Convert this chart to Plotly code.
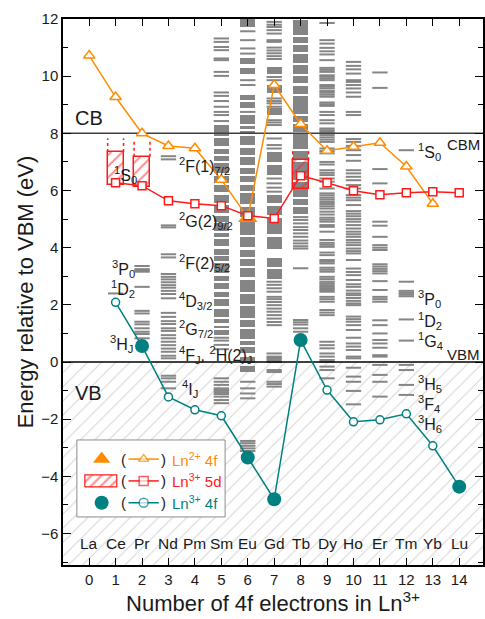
import plotly.graph_objects as go

# ---------------------------------------------------------------- data
n_4f = list(range(15))
elements = ["La", "Ce", "Pr", "Nd", "Pm", "Sm", "Eu", "Gd", "Tb", "Dy", "Ho", "Er", "Tm", "Yb", "Lu"]

cb_energy = 8.0     # conduction band minimum (eV)
vbm_energy = 0.0    # valence band maximum (eV)

# Ln2+ 4f ground state (n = 0..13)
ln2_n = list(range(14))
ln2_4f = [10.72, 9.27, 8.00, 7.56, 7.48, 6.38, 5.05, 9.69, 8.33, 7.39, 7.53, 7.67, 6.84, 5.54]
ln2_in_gap = [False, False, False, False, False, False, True, False, False, False, False, False, False, False]

# Ln3+ lowest 5d state (n = 1..14)
ln3_5d_n = list(range(1, 15))
ln3_5d = [6.27, 6.17, 5.64, 5.54, 5.47, 5.12, 5.02, 6.52, 6.27, 5.99, 5.85, 5.92, 5.96, 5.92]

# Ln3+ 4f ground state (n = 1..14)
ln3_4f_n = list(range(1, 15))
ln3_4f = [2.09, 0.56, -1.22, -1.67, -1.88, -3.34, -4.80, 0.77, -0.98, -2.09, -2.02, -1.81, -2.93, -4.36]
ln3_4f_in_gap = [False, True, False, False, False, True, True, True, False, False, False, False, False, True]

# 5d bands of Ce3+, Pr3+ and Tb3+ (eV)
band_n = [1, 2, 8]
band_low = [6.19, 6.13, 6.07]
band_high = [7.35, 7.18, 7.06]
band_tail = [7.83, 7.76, 7.48]

# excited 4f levels of the Ln3+ ions (eV): single levels and dense groups
lv_ce = [2.40]
lv_pr = [0.83, 0.98, 1.06, 1.18, 1.32, 1.41, 1.70, 1.79, 2.63, 3.16, 3.20, 3.25, 3.36]
lv_nd = [-0.92, -0.69, -0.57, -0.48, 0.13, 0.22, 0.36, 0.47, 0.59, 0.71, 0.83, 0.94, 1.09, 1.18,
         1.33, 1.43, 1.58, 1.72, 2.23, 2.38, 2.49, 2.60, 2.69, 2.79, 2.89, 2.98, 3.08, 3.66, 3.77,
         4.71, 4.78, 7.09, 7.20]
lv_sm = [-1.44, -1.33, -1.21, -1.12, -1.05, -0.98, -0.92, -0.80, -0.69, -0.57, 0.45, 0.60, 0.75,
         0.85, 8.43, 8.64, 8.75, 8.93, 9.13, 9.31, 9.43, 10.01, 10.15, 10.56, 10.62, 10.91, 11.02,
         11.20, 11.32]
blk_sm = [(0.95, 1.12), (1.18, 1.25), (1.35, 1.52), (1.58, 1.85), (1.95, 2.20), (2.26, 2.45),
          (2.55, 2.78), (2.84, 3.00), (3.10, 3.45), (3.55, 3.70), (3.76, 3.95), (4.05, 4.30),
          (4.36, 4.50), (4.60, 4.85), (4.90, 5.10), (5.20, 5.50), (5.56, 5.85), (5.95, 6.20),
          (6.26, 6.50), (6.60, 6.95), (7.05, 7.22), (7.28, 7.45), (7.55, 7.85), (7.92, 8.30)]
lv_eu = [-3.11, -3.02, -2.93, -2.84, -2.76, -1.27, -1.10, -0.92, -0.69, 8.75, 9.69, 9.86, 10.79,
         10.97, 11.26, 11.57]
blk_eu = [(-0.34, -0.13), (-0.05, 0.19), (0.30, 0.51), (0.59, 0.74), (0.82, 1.14), (1.22, 1.46),
          (1.54, 1.95), (2.03, 2.38), (2.46, 2.88), (2.96, 3.28), (3.36, 3.61), (3.69, 3.93),
          (4.01, 4.36), (4.44, 5.00), (5.08, 5.44), (5.52, 5.92), (6.00, 6.21), (6.29, 6.50),
          (6.58, 6.80), (6.88, 7.17), (7.25, 7.50), (7.58, 7.90), (7.97, 8.08), (8.15, 8.26),
          (8.33, 8.64), (8.87, 9.09), (9.17, 9.34), (10.09, 10.27), (10.44, 10.62), (11.72, 12.00)]
lv_gd = [-0.86, -0.77, -0.69, -0.35, -0.28, 0.00, 0.07, 0.14, 0.19, 0.30, 1.29, 1.40, 1.52, 1.64,
         1.76, 1.87, 1.99, 2.10, 2.20, 2.28, 2.46, 2.58, 2.70, 2.81, 5.96, 6.10, 6.25, 6.42, 7.47,
         7.59, 7.82, 8.29, 8.38, 8.46, 8.93, 9.05, 9.13, 9.22, 9.86, 9.97, 10.60, 10.70, 10.80,
         10.90, 11.00, 11.20, 11.26, 11.49, 11.61, 11.72, 11.80, 11.90]
blk_gd = [(2.92, 3.24), (3.32, 3.63), (3.97, 4.39), (4.47, 5.03), (5.14, 5.47), (5.55, 5.84),
          (6.54, 6.91), (6.99, 7.35), (8.64, 8.87), (9.40, 9.69), (10.09, 10.33)]
lv_tb = [1.06, 1.18, 1.31, 1.39, 1.47, 3.28, 3.97, 4.05, 4.15, 4.25, 4.38, 4.50, 4.62, 4.72, 4.85,
         4.97, 5.07]
blk_tb = [(5.17, 5.41), (5.49, 5.70), (5.78, 6.30), (6.36, 7.00), (7.06, 7.40), (7.47, 8.00),
          (8.06, 8.31), (8.39, 8.60), (8.66, 9.30), (9.36, 9.67), (9.75, 10.00), (10.06, 10.39),
          (10.47, 10.79), (10.85, 11.09), (11.17, 11.37), (11.43, 11.95)]
lv_dy = [-0.57, -0.28, -0.16, 0.01, 0.07, 0.19, 0.30, 0.48, 0.59, 0.71, 1.64, 1.73, 1.82, 2.11,
         2.20, 2.28, 2.46, 2.52, 2.58, 2.63, 2.69, 2.75, 2.81, 2.90, 2.98, 3.16, 3.23, 3.30, 3.45,
         3.51, 3.57, 3.74, 3.83, 4.03, 4.10, 4.17, 4.27, 4.56, 4.73, 4.79, 4.91, 4.98, 5.05, 5.16,
         5.26, 5.37, 5.45, 5.53, 5.60, 5.68, 5.75, 5.83, 5.90, 6.07, 6.31, 6.42, 6.54, 6.62, 6.71,
         6.91, 7.00, 7.30, 7.38, 7.47, 7.70, 7.78, 7.86, 7.94, 8.05, 8.11, 8.17, 8.35, 8.46, 8.64,
         8.75, 8.96, 9.02, 9.08, 9.28, 9.35, 9.42, 9.48, 9.57, 9.63, 9.69, 9.86, 9.92, 9.98, 10.03,
         10.15, 10.22, 10.29, 10.56, 10.76, 10.87, 10.99, 11.14, 11.26, 11.86]
lv_ho = [-1.48, -1.01, -0.69, -0.51, -0.20, 0.13, 0.19, 0.42, 0.54, 0.65, 0.85, 1.12, 1.29, 1.41,
         1.50, 1.59, 1.99, 2.05, 2.14, 2.24, 2.34, 2.40, 2.50, 2.63, 2.72, 2.87, 3.04, 3.15, 3.27,
         3.57, 3.80, 3.88, 3.97, 4.09, 4.18, 4.27, 4.38, 4.47, 4.56, 4.67, 4.79, 4.91, 5.00, 5.10,
         5.19, 5.28, 5.49, 5.66, 5.75, 5.84, 6.07, 6.19, 6.36, 6.48, 6.60, 6.71, 7.04, 7.24, 7.41,
         7.56, 7.70, 7.80, 8.64, 8.75, 9.28, 9.43, 9.57, 9.69, 9.80, 9.86, 10.09, 10.24, 10.36, 10.50]
lv_er = [-1.21, -0.69, -0.45, -0.10, 0.19, 0.24, 0.50, 0.65, 0.77, 1.00, 1.29, 1.46, 2.11, 2.20,
         2.28, 2.52, 2.83, 3.10, 3.18, 3.26, 3.34, 3.42, 3.92, 4.00, 4.09, 4.38, 4.77, 4.91, 6.25,
         6.75, 9.59, 10.13]
lv_tm = [-1.15, -0.80, -0.28, -0.10, 0.75, 1.49, 2.30, 2.36, 2.42, 2.49, 2.81, 7.41]

level_n = [1, 2, 3, 5, 6, 7, 8, 9, 10, 11, 12]
level_sets = [lv_ce, lv_pr, lv_nd, lv_sm, lv_eu, lv_gd, lv_tb, lv_dy, lv_ho, lv_er, lv_tm]
block_n = [5, 6, 7, 8]
block_sets = [blk_sm, blk_eu, blk_gd, blk_tb]

# ---------------------------------------------------------------- style
ORANGE = "#FF8C00"
RED = "#FF1A1A"
TEAL = "#008080"
GRAY = "#858585"
INK = "#1a1a1a"
FONT = "Arial, Liberation Sans, sans-serif"
X_RANGE = [-0.99, 14.9]
Y_RANGE = [-7.1, 12.0]
HALF_W = 0.29          # half width of a level column (x units)
BAND_HALF_W = 0.3

fig = go.Figure()

# valence band (hatched)
fig.add_trace(go.Bar(
    x=[(X_RANGE[0] + X_RANGE[1]) / 2], base=[Y_RANGE[0]], y=[vbm_energy - Y_RANGE[0]],
    width=[X_RANGE[1] - X_RANGE[0]],
    marker=dict(color="white", line_width=0,
                pattern=dict(shape="/", fgcolor="#a8a8a8", bgcolor="white", size=10, solidity=0.1)),
    hoverinfo="skip", showlegend=False))

# dense groups of 4f levels
for n, blocks in zip(block_n, block_sets):
    fig.add_trace(go.Bar(
        x=[n] * len(blocks), base=[lo for lo, hi in blocks], y=[hi - lo for lo, hi in blocks],
        width=2 * HALF_W, marker=dict(color=GRAY, line_width=0),
        hoverinfo="skip", showlegend=False))

# 5d bands
fig.add_trace(go.Bar(
    x=band_n, base=band_low, y=[h - l for l, h in zip(band_low, band_high)], width=2 * BAND_HALF_W,
    marker=dict(color="rgba(0,0,0,0)", line=dict(color=RED, width=1.5),
                pattern=dict(shape="/", fgcolor=RED, bgcolor="rgba(0,0,0,0)", size=8, solidity=0.25)),
    hoverinfo="skip", showlegend=False))

# single 4f levels
lx, ly = [], []
for n, levels in zip(level_n, level_sets):
    for e in levels:
        lx += [n - HALF_W, n + HALF_W, None]
        ly += [e, e, None]
fig.add_trace(go.Scatter(x=lx, y=ly, mode="lines", line=dict(color=GRAY, width=2),
                         hoverinfo="skip", showlegend=False))

# band edges
fig.add_trace(go.Scatter(x=X_RANGE, y=[cb_energy] * 2, mode="lines",
                         line=dict(color="#404040", width=1.5), showlegend=False))
fig.add_trace(go.Scatter(x=X_RANGE, y=[vbm_energy] * 2, mode="lines",
                         line=dict(color="black", width=1.5), showlegend=False))

# dotted tails above the 5d bands
dx, dy = [], []
for n, hi, top in zip(band_n, band_high, band_tail):
    for side in (-BAND_HALF_W, BAND_HALF_W):
        dx += [n + side, n + side, None]
        dy += [hi, top, None]
fig.add_trace(go.Scatter(x=dx, y=dy, mode="lines", line=dict(color=RED, width=1.5, dash="dot"),
                         showlegend=False))

# Ln2+ 4f
fig.add_trace(go.Scatter(x=ln2_n, y=ln2_4f, mode="lines+markers",
                         line=dict(color=ORANGE, width=1.5),
                         marker=dict(symbol="triangle-up", size=10, color="white",
                                     line=dict(color=ORANGE, width=1.5)), showlegend=False))
fig.add_trace(go.Scatter(x=[n for n, f in zip(ln2_n, ln2_in_gap) if f],
                         y=[e for e, f in zip(ln2_4f, ln2_in_gap) if f], mode="markers",
                         marker=dict(symbol="triangle-up", size=17, color=ORANGE), showlegend=False))
# Ln3+ 5d
fig.add_trace(go.Scatter(x=ln3_5d_n, y=ln3_5d, mode="lines+markers",
                         line=dict(color=RED, width=1.5),
                         marker=dict(symbol="square", size=8, color="white",
                                     line=dict(color=RED, width=1.5)), showlegend=False))
# Ln3+ 4f
fig.add_trace(go.Scatter(x=ln3_4f_n, y=ln3_4f, mode="lines+markers",
                         line=dict(color=TEAL, width=1.5),
                         marker=dict(symbol="circle", size=8, color="white",
                                     line=dict(color=TEAL, width=1.5)), showlegend=False))
fig.add_trace(go.Scatter(x=[n for n, f in zip(ln3_4f_n, ln3_4f_in_gap) if f],
                         y=[e for e, f in zip(ln3_4f, ln3_4f_in_gap) if f], mode="markers",
                         marker=dict(symbol="circle", size=14, color=TEAL), showlegend=False))

# ---------------------------------------------------------------- key (in plot-fraction axes)
LEG = dict(xaxis="x2", yaxis="y2", showlegend=False, hoverinfo="skip")
fig.add_trace(go.Scatter(x=[0.033, 0.386, 0.386, 0.033, 0.033], y=[0.088, 0.088, 0.229, 0.229, 0.088],
                         mode="lines", fill="toself", fillcolor="white",
                         line=dict(color="#8c8c8c", width=1), **LEG))
rows_y = [0.194, 0.154, 0.114]
row_colors = [ORANGE, RED, TEAL]
row_symbols = ["triangle-up", "square", "circle"]
fig.add_trace(go.Scatter(x=[0.092], y=[rows_y[0]], mode="markers",
                         marker=dict(symbol="triangle-up", size=15, color=ORANGE), **LEG))
fig.add_trace(go.Scatter(x=[0.052, 0.128, 0.128, 0.052, 0.052],
                         y=[0.143, 0.143, 0.165, 0.165, 0.143], mode="lines", fill="toself",
                         fillcolor="rgba(0,0,0,0)",
                         fillpattern=dict(shape="/", fgcolor=RED, bgcolor="white", size=7, solidity=0.3),
                         line=dict(color=RED, width=1.2), **LEG))
fig.add_trace(go.Scatter(x=[0.092], y=[rows_y[2]], mode="markers",
                         marker=dict(symbol="circle", size=14, color=TEAL), **LEG))
for ry, c, s in zip(rows_y, row_colors, row_symbols):
    fig.add_trace(go.Scatter(x=[0.156, 0.192, 0.228], y=[ry] * 3, mode="lines+markers",
                             line=dict(color=c, width=1.5),
                             marker=dict(symbol=s, size=[0, 9, 0], color="white",
                                         line=dict(color=c, width=1.5)), **LEG))

legend_texts = ["Ln<sup>2+</sup> 4f", "Ln<sup>3+</sup> 5d", "Ln<sup>3+</sup> 4f"]
ann = []
for ry, c, t in zip(rows_y, row_colors, legend_texts):
    ann.append(dict(x=0.143, y=ry, xref="x2", yref="y2", text="(", showarrow=False,
                    font=dict(size=15, color=INK, family=FONT)))
    ann.append(dict(x=0.240, y=ry, xref="x2", yref="y2", text=")", showarrow=False,
                    font=dict(size=15, color=INK, family=FONT)))
    ann.append(dict(x=0.254, y=ry, xref="x2", yref="y2", text=t, showarrow=False, xanchor="left",
                    font=dict(size=15, color=c, family=FONT)))

# ---------------------------------------------------------------- text
for n, el in zip(n_4f, elements):
    ann.append(dict(x=n, y=-6.35, text=el, showarrow=False,
                    font=dict(size=15.5, color=INK, family=FONT)))

term_text = ["<sup>1</sup>S<sub>0</sub>", "<sup>2</sup>F(1)<sub>7/2</sub>", "<sup>2</sup>G(2)<sub>9/2</sub>",
             "<sup>2</sup>F(2)<sub>5/2</sub>", "<sup>4</sup>D<sub>3/2</sub>", "<sup>2</sup>G<sub>7/2</sub>",
             "<sup>4</sup>F<sub>J</sub>, <sup>2</sup>H(2)<sub>J</sub>", "<sup>4</sup>I<sub>J</sub>",
             "<sup>3</sup>P<sub>0</sub>", "<sup>1</sup>D<sub>2</sub>", "<sup>3</sup>H<sub>J</sub>",
             "<sup>1</sup>S<sub>0</sub>", "<sup>3</sup>P<sub>0</sub>", "<sup>1</sup>D<sub>2</sub>",
             "<sup>1</sup>G<sub>4</sub>", "<sup>3</sup>H<sub>5</sub>", "<sup>3</sup>F<sub>4</sub>",
             "<sup>3</sup>H<sub>6</sub>"]
term_x = [1.36, 3.34, 3.34, 3.34, 3.34, 3.34, 3.34, 3.42, 1.82, 1.82, 1.75,
          12.37, 12.37, 12.37, 12.37, 12.37, 12.37, 12.37]
term_y = [6.55, 6.85, 4.92, 3.45, 2.12, 1.14, 0.26, -0.96, 3.25, 2.55, 0.62,
          7.35, 2.22, 1.42, 0.72, -0.78, -1.48, -2.15]
term_anchor = ["center"] + ["left"] * 7 + ["right"] * 3 + ["left"] * 7
for t, x, y, a in zip(term_text, term_x, term_y, term_anchor):
    ann.append(dict(x=x, y=y, text=t, showarrow=False, xanchor=a,
                    font=dict(size=16, color=INK, family=FONT)))

ann += [
    dict(x=-0.62, y=8.55, text="CB", showarrow=False, xanchor="left",
         font=dict(size=20, color=INK, family=FONT)),
    dict(x=-0.62, y=-1.1, text="VB", showarrow=False, xanchor="left",
         font=dict(size=20, color=INK, family=FONT)),
    dict(x=14.86, y=7.62, text="CBM", showarrow=False, xanchor="right",
         font=dict(size=15, color=INK, family=FONT)),
    dict(x=14.86, y=0.25, text="VBM", showarrow=False, xanchor="right",
         font=dict(size=15, color=INK, family=FONT)),
]

axis_common = dict(showgrid=False, zeroline=False, showline=True, linecolor="black", linewidth=1.5,
                   mirror="ticks", ticks="inside", tickcolor="black", tickwidth=1.2,
                   tickfont=dict(size=15, color=INK, family=FONT))
fig.update_layout(
    width=485, height=619, margin=dict(l=63, r=0, t=19, b=54),
    paper_bgcolor="white", plot_bgcolor="white", barmode="overlay", bargap=0,
    showlegend=False, annotations=ann,
    xaxis=dict(range=X_RANGE, tickvals=n_4f, ticklen=7,
               title=dict(text="Number of 4f electrons in Ln<sup>3+</sup>", standoff=3,
                          font=dict(size=22, color=INK, family=FONT)), **axis_common),
    yaxis=dict(range=Y_RANGE, tickvals=list(range(-6, 13, 2)), ticklen=8,
               minor=dict(dtick=1, ticks="inside", ticklen=5, tickcolor="black"),
               title=dict(text="Energy relative to VBM (eV)", standoff=1,
                          font=dict(size=22, color=INK, family=FONT)), **axis_common),
    xaxis2=dict(range=[0, 1], overlaying="x", anchor="y2", visible=False),
    yaxis2=dict(range=[0, 1], overlaying="y", anchor="x2", visible=False),
)

fig.write_html("out.html")
